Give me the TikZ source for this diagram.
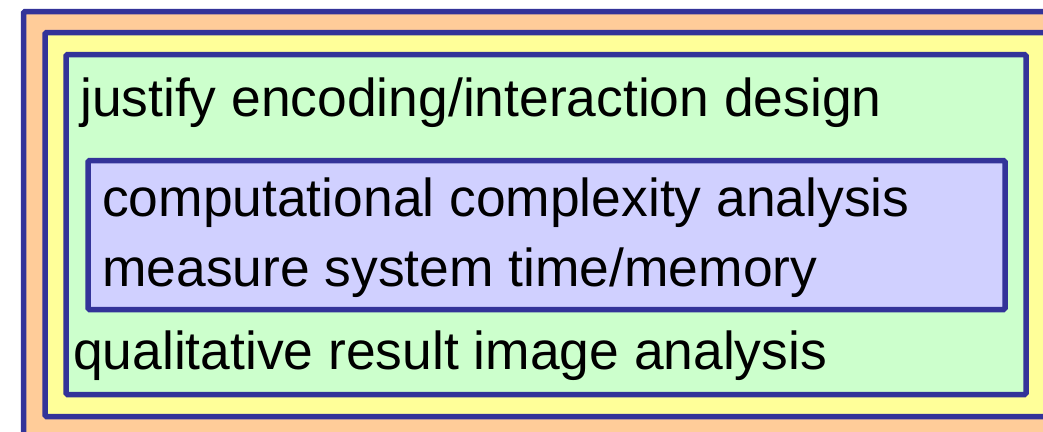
\documentclass[tikz,border=0pt]{standalone}
\usepackage{fontspec}
\setmainfont{Liberation Sans}
\usetikzlibrary{positioning}
\definecolor{framecolor}{HTML}{333399}
\definecolor{orangecolor}{HTML}{FFCC99}
\definecolor{yellowcolor}{HTML}{FFFF99}
\definecolor{greencolor}{HTML}{CCFFCC}
\definecolor{lavendercolor}{HTML}{D0D0FF}
\tikzset{layer/.style={draw=framecolor, line width=5.5pt, rounded corners=1.5pt, inner sep=0pt, outer sep=0pt}}
\tikzset{label/.style={anchor=base west, inner sep=0pt, font=\fontsize{53.4}{60}\selectfont}}

\begin{document}
\begin{tikzpicture}[x=1pt, y=-1pt]
	\useasboundingbox (0,0) rectangle (1043,431);
	
	%%% NODES %%%
	
	% LAYERS
	\node[layer, fill=orangecolor, minimum width=1046.5pt, minimum height=438.5pt] at (546.75,230.75) (outerlayer) {};
	\node[layer, fill=yellowcolor, minimum width=1015pt, minimum height=384pt] at (552.5,224.5) (yellowlayer) {};
	\node[layer, fill=greencolor, minimum width=960pt, minimum height=340pt] at (546,224.5) (greenlayer) {};
	\node[layer, fill=lavendercolor, minimum width=917pt, minimum height=149pt] at (546.5,235) (innerlayer) {};
	
	% TEXTS
	\node[label] at (80,116) (justify) {justify encoding/interaction design};
	\node[label] at (102,216) (complexity) {computational complexity analysis};
	\node[label] at (102,286) (measure) {measure system time/memory};
	\node[label] at (73,369) (qualitative) {qualitative result image analysis};
	
\end{tikzpicture}
\end{document}
